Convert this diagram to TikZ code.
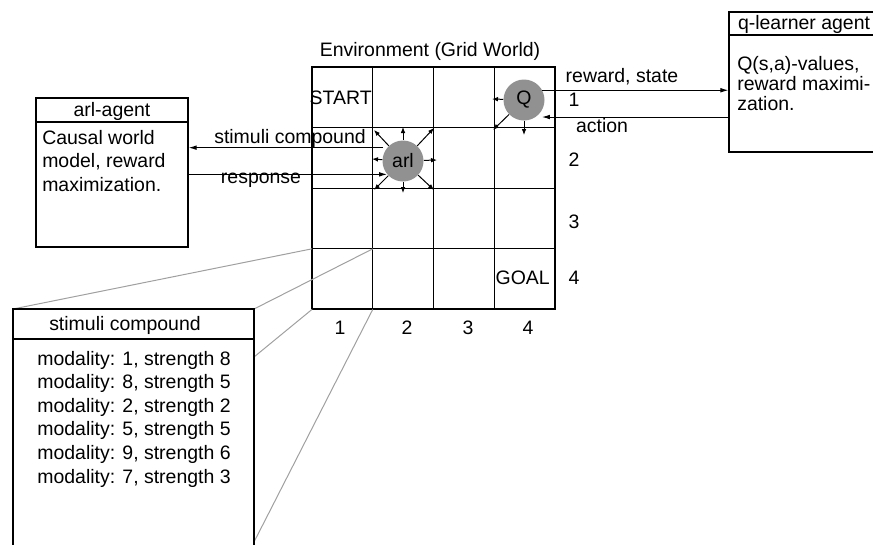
\documentclass[tikz,border=0pt]{standalone}
\usepackage{fontspec}
\setmainfont{Liberation Sans}
\usetikzlibrary{arrows.meta,fit}
\definecolor{dotgray}{RGB}{145,145,145}
\definecolor{zoomgray}{RGB}{160,160,160}
\tikzset{
  every node/.style={font=\fontsize{14.6}{17.7}\selectfont, inner sep=0pt},
  cell line/.style={line width=0.75pt},
  frame/.style={draw, line width=0.9pt, fit={#1}, inner sep=0pt},
  agentdot/.style={circle, fill=dotgray, minimum size=30.75pt},
  flow/.style={-{Latex[length=6pt,width=3.5pt]}, line width=0.75pt},
  move/.style={-{Latex[length=4.5pt,width=3.5pt]}, line width=0.75pt},
  zoomline/.style={draw=zoomgray, line width=0.75pt},
}
\begin{document}
\begin{tikzpicture}[x=0.75pt, y=-0.75pt]
  \useasboundingbox (0,0) rectangle (873,544);
  \clip (0,0) rectangle (873,544);
  % grid world
  \foreach \i in {0,...,4}
    \foreach \j in {0,...,4}
      \coordinate (g\i\j) at ({312+60.75*\i},{67+60.6*\j});
  \foreach \i in {1,2,3} {
    \draw[cell line] (g\i0) -- (g\i4);
    \draw[cell line] (g0\i) -- (g4\i);
  }
  \draw[line width=1.5pt] (g00) rectangle (g44);
  \node (envtitle) at (430,51) {Environment (Grid World)};
  \node[anchor=east] (start) at (372,98) {START};
  \node[anchor=east] (goal) at (550,278) {GOAL};
  \foreach \c/\x in {1/340,2/407,3/468,4/528}
    \node (col\c) at (\x,328) {\c};
  \foreach \r/\y in {1/100,2/160,3/222,4/278}
    \node (row\r) at (574,\y) {\r};

  % agents in the grid
  \node[agentdot] (q) at (524,100) {Q};
  \node[agentdot] (arl) at (403,161) {arl};
  \foreach \dx/\dy [count=\k] in {-29/-31,0/-34,31/-33,-31/-2,34/-1,-29/29,0/32,31/29} {
    \path (arl.center) ++(\dx,\dy) coordinate (arlto\k);
    \draw[move] (arl) -- (arlto\k);
  }
  \foreach \dx/\dy [count=\k] in {-32/-1,-31/30,0/35} {
    \path (q.center) ++(\dx,\dy) coordinate (qto\k);
    \draw[move] (q) -- (qto\k);
  }

  % agent boxes
  \node[frame={(36,98) (188,247)}] (arlagent) {};
  \node[frame={(36,98) (188,122)}] (arlhead) {};
  \node (arltitle) at (112,111) {arl-agent};
  \node[anchor=north west, align=left] (arltext) at (42,130) {Causal world\\model, reward\\maximization.};
  \node[frame={(729,12) (880,152)}] (qbox) {};
  \node[frame={(729,12) (880,35)}] (qhead) {};
  \node (qtitle) at (804,24) {q-learner agent};
  \node[anchor=north west, align=left, font=\fontsize{14.6}{15}\selectfont] (qtext) at (737,56) {Q(s,a)-values,\\reward maximi-\\zation.};

  % stimuli compound
  \path (254,357) coordinate (stimmid);
  \path (254,542) coordinate (stimlow);
  \draw[zoomline] (13,309) -- (g03);
  \draw[zoomline] (254,309) -- (g13);
  \draw[zoomline] (stimmid) -- (g04);
  \draw[zoomline] (stimlow) -- (g14);
  \node[frame={(13,309) (254,560)}, fill=white] (stimbox) {};
  \node[frame={(13,309) (254,339)}] (stimhead) {};
  \node (stimtitle) at (125,325) {stimuli compound};
  \foreach \m/\s [count=\k] in {1/8,8/5,2/2,5/5,9/6,7/3}
    \node (mod\k) at (134,{336.5+23.6*\k}) {modality: \m, strength \s};

  % messages
  \draw[flow, shorten <=3pt] (arl.140) -- (arl.140 -| arlagent.east);
  \draw[flow] (arl.-140 -| arlagent.east) -- (arl.-140);
  \node (stimlabel) at (290,138) {stimuli compound};
  \node (resplabel) at (261,180) {response};
  \draw[flow] (q.28) -- (q.28 -| qbox.west);
  \draw[flow, shorten >=4.5pt] (q.-55 -| qbox.west) -- (q.-55);
  \node (rewlabel) at (622,77) {reward, state};
  \node (actlabel) at (602,126) {action};
\end{tikzpicture}
\end{document}
